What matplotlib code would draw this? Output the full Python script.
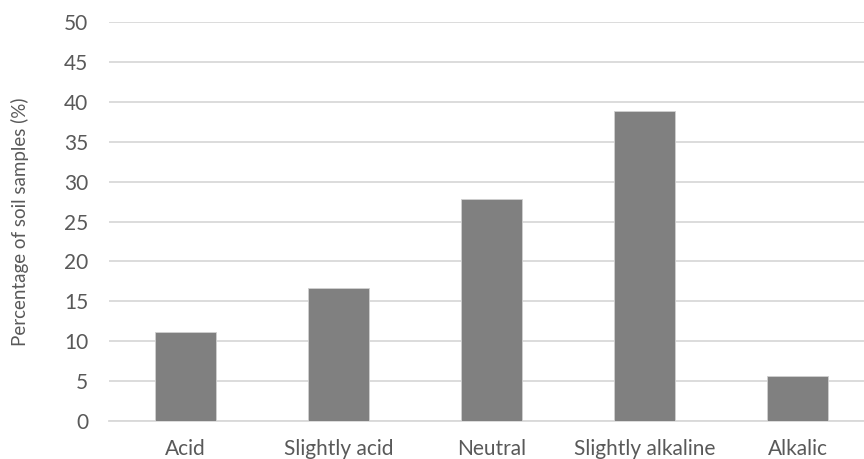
import matplotlib
matplotlib.use("Agg")
import matplotlib.pyplot as plt

# share of soil samples per pH class
categories = ["Acid", "Slightly acid", "Neutral", "Slightly alkaline", "Alkalic"]
percent = [11.1, 16.7, 27.8, 38.9, 5.6]
yticks = [0, 5, 10, 15, 20, 25, 30, 35, 40, 45, 50]

plt.rcParams["font.family"] = ["Lato", "DejaVu Sans"]

W, H = 864, 459
fig = plt.figure(figsize=(W / 100, H / 100), dpi=100)
left, right, top, bottom = 109, 864, 22.3, 420.7
ax = fig.add_axes([left / W, 1 - bottom / H, (right - left) / W, (bottom - top) / H])

x = range(len(categories))
ax.bar(x, percent, width=0.4, color="#808080", edgecolor="#d0d0d0",
       linewidth=0.6, zorder=3)

ax.set_ylim(0, 50)
ax.set_xlim(-0.5, -0.5 + (right - left) / 153.0)
ax.set_yticks(yticks)
ax.set_xticks(list(x))
ax.set_xticklabels(categories)

ax.grid(axis="y", color="#d9d9d9", linewidth=1.3, zorder=0)
for side in ["top", "right", "left"]:
    ax.spines[side].set_visible(False)
ax.spines["bottom"].set_color("#d9d9d9")
ax.spines["bottom"].set_linewidth(1.3)
ax.tick_params(length=0, labelsize=15, labelcolor="#595959")
ax.tick_params(axis="y", pad=15)
ax.tick_params(axis="x", pad=13)

fig.text(20 / W, 1 - ((top + bottom) / 2) / H, "Percentage of soil samples (%)",
         rotation=90, ha="center", va="center", fontsize=13.5, color="#595959")

fig.savefig("out.png", dpi=100)
